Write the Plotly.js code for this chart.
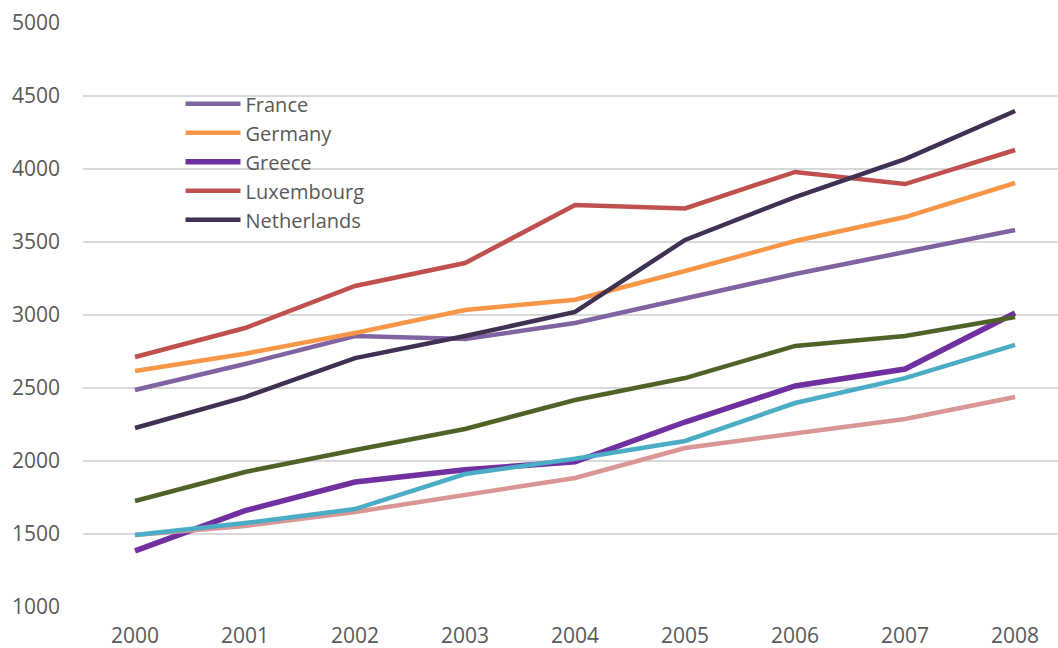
<!DOCTYPE html>
<html>
<head>
<meta charset="utf-8">
<script src="https://cdn.plot.ly/plotly-3.0.1.min.js"></script>
<style>html,body{margin:0;padding:0;background:#fff;}#chart{width:1058px;height:648px;}</style>
</head>
<body>
<div id="chart"></div>
<script>
const years = ['2000','2001','2002','2003','2004','2005','2006','2007','2008'];
const france      = [2486, 2664, 2856, 2836, 2945, 3110, 3281, 3432, 3582];
const germany     = [2616, 2735, 2877, 3034, 3105, 3301, 3507, 3671, 3904];
const greece      = [1384, 1660, 1856, 1940, 1995, 2267, 2514, 2630, 3014];
const luxembourg  = [2712, 2911, 3199, 3356, 3753, 3730, 3980, 3897, 4130];
const netherlands = [2226, 2438, 2705, 2856, 3021, 3514, 3808, 4068, 4397];
const seriesPink  = [1493, 1555, 1651, 1765, 1884, 2089, 2185, 2288, 2438];
const seriesTeal  = [1493, 1575, 1671, 1911, 2015, 2137, 2397, 2568, 2795];
const seriesGreen = [1726, 1925, 2075, 2219, 2418, 2568, 2788, 2856, 2986];

const defs = [
  {name:'France', y:france, color:'#8064A2', w:4.5, legend:true},
  {name:'Germany', y:germany, color:'#F79646', w:4.5, legend:true},
  {name:'Greece', y:greece, color:'#7030A0', w:5.5, legend:true},
  {name:'Luxembourg', y:luxembourg, color:'#C0504D', w:4.5, legend:true},
  {name:'Netherlands', y:netherlands, color:'#403152', w:4.5, legend:true},
  {name:'Series 6', y:seriesPink, color:'#D99694', w:4.5, legend:false},
  {name:'Series 7', y:seriesTeal, color:'#4BACC6', w:4.5, legend:false},
  {name:'Series 8', y:seriesGreen, color:'#4F6228', w:4.5, legend:false}
];

const traces = defs.map((d,i) => ({
  type:'scatter', mode:'lines', x:years, y:d.y, name:d.name,
  legendgroup:'g'+i, showlegend:d.legend,
  line:{color:d.color, width:d.w, shape:'linear'},
  hoverinfo:'x+y+name'
}));

const layout = {
  width:1058, height:648,
  margin:{l:83, r:0, t:23, b:41, pad:0},
  paper_bgcolor:'#ffffff', plot_bgcolor:'#ffffff',
  font:{family:'Open Sans, Liberation Sans, sans-serif', size:21, color:'#595959'},
  xaxis:{type:'category', range:[-0.473, 8.39], showgrid:false, zeroline:false,
         showline:false, ticks:'', ticklabelstandoff:14,
         tickfont:{size:21, color:'#595959'}},
  yaxis:{range:[1000, 5000], tickvals:[1000,1500,2000,2500,3000,3500,4000,4500,5000],
         showgrid:true, gridcolor:'#D9D9D9', gridwidth:1.5, zeroline:false,
         showline:false, ticks:'', ticklabelstandoff:22,
         tickfont:{size:21, color:'#595959'}},
  showlegend:true,
  legend:{x:0.1, y:0.895, xanchor:'left', yanchor:'top', bgcolor:'rgba(0,0,0,0)',
          traceorder:'grouped', tracegroupgap:0, itemwidth:55,
          font:{size:20, color:'#595959'}}
};

Plotly.newPlot('chart', traces, layout, {displayModeBar:false, staticPlot:true});
</script>
</body>
</html>
